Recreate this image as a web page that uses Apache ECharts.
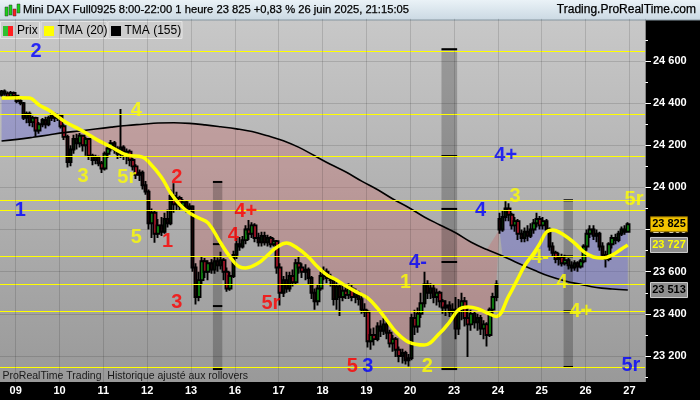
<!DOCTYPE html>
<html><head><meta charset="utf-8">
<script src="https://cdn.jsdelivr.net/npm/echarts@6/dist/echarts.min.js"></script>
<style>html,body{margin:0;padding:0;background:#000}#c{width:700px;height:400px}</style>
</head><body><div id="c"></div>
<script>
// ---------- DATA ----------
const fridayHours = ['17','18','19','20','21'];
const sessionHours = ['08','09','10','11','12','13','14','15','16','17','18','19','20','21'];
const sessionDays = ['09','10','11','12','13','16','17','18','19','20','23','24','25','26'];
const futureHours = ['08','09','10','11','12'];
const yTickMin = 23000, yTickMax = 24800, yTickStep = 200;

// [open, close, low, high] per 1-hour bar
const ohlc = [
[24440,24455,24430,24462],[24455,24445,24435,24465],[24445,24430,24420,24455],[24430,24448,24425,24458],[24448,24435,24420,24455],
[24435,24410,24400,24440],[24410,24400,24390,24420],[24400,24330,24320,24405],[24330,24350,24305,24360],[24350,24310,24290,24360],
[24310,24330,24285,24340],[24330,24270,24240,24335],[24270,24300,24255,24310],[24300,24320,24285,24330],[24320,24300,24280,24335],
[24300,24330,24290,24340],[24330,24345,24315,24355],[24345,24330,24310,24355],[24330,24340,24315,24350],[24340,24290,24280,24345],
[24290,24240,24225,24300],[24240,24120,24095,24250],[24120,24180,24100,24200],[24180,24230,24160,24250],[24230,24210,24180,24255],
[24210,24245,24190,24258],[24245,24200,24170,24250],[24200,24230,24150,24240],[24230,24150,24130,24235],[24150,24130,24105,24160],
[24130,24145,24110,24155],[24145,24115,24100,24150],[24115,24090,24068,24125],[24090,24160,24080,24170],[24160,24185,24140,24195],
[24185,24210,24170,24225],[24210,24180,24160,24220],[24180,24160,24135,24195],[24160,24190,24140,24372],[24190,24150,24130,24200],
[24150,24170,24110,24185],[24170,24130,24100,24180],[24130,24100,24080,24140],[24100,24060,24040,24110],[24060,24070,24030,24085],
[24070,24010,23990,24080],[24010,23980,23965,24030],[23980,23830,23800,23990],[23830,23880,23760,23900],[23880,23780,23738,23890],
[23780,23820,23760,23850],[23820,23790,23770,23860],[23790,23850,23780,23880],[23850,23830,23810,23895],[23830,23960,23820,23990],
[23960,23920,23880,24020],[23920,23950,23890,23980],[23950,23910,23890,23960],[23910,23930,23895,23945],[23930,23900,23880,23940],
[23900,23910,23880,23925],[23910,23620,23600,23915],[23620,23480,23445,23640],[23480,23560,23460,23600],[23560,23650,23540,23670],
[23650,23600,23570,23665],[23600,23640,23560,23655],[23640,23610,23590,23660],[23610,23650,23590,23670],[23650,23630,23600,23668],
[23630,23655,23610,23695],[23655,23600,23560,23665],[23600,23520,23505,23620],[23520,23580,23510,23600],[23580,23680,23570,23700],
[23680,23730,23660,23760],[23730,23720,23700,23765],[23720,23750,23710,23770],[23750,23800,23730,23820],[23800,23780,23750,23845],
[23780,23820,23760,23835],[23820,23760,23740,23830],[23760,23740,23720,23785],[23740,23770,23720,23790],[23770,23740,23725,23790],
[23740,23760,23720,23775],[23760,23730,23715,23770],[23730,23745,23720,23760],[23745,23620,23590,23750],[23620,23500,23440,23640],
[23500,23560,23480,23580],[23560,23520,23500,23600],[23520,23580,23505,23600],[23580,23550,23530,23610],[23550,23640,23540,23660],
[23640,23620,23590,23670],[23620,23600,23570,23640],[23600,23610,23560,23635],[23610,23570,23540,23620],[23570,23500,23470,23580],
[23500,23460,23420,23520],[23460,23520,23440,23540],[23520,23580,23510,23600],[23580,23600,23560,23625],[23600,23570,23545,23615],
[23570,23560,23530,23590],[23560,23470,23440,23570],[23470,23530,23420,23550],[23530,23480,23390,23540],[23480,23510,23460,23540],
[23510,23490,23470,23530],[23490,23520,23470,23545],[23520,23480,23460,23540],[23480,23500,23450,23520],[23500,23470,23440,23510],
[23470,23420,23400,23490],[23420,23410,23385,23450],[23410,23270,23240,23420],[23270,23300,23230,23330],[23300,23280,23250,23335],
[23280,23340,23270,23360],[23340,23320,23290,23370],[23320,23350,23300,23380],[23350,23310,23280,23365],[23310,23260,23240,23325],
[23260,23280,23220,23300],[23280,23230,23195,23290],[23230,23200,23170,23245],[23200,23215,23165,23235],[23215,23180,23160,23225],
[23180,23190,23150,23210],[23190,23380,23180,23400],[23380,23340,23300,23420],[23340,23400,23310,23430],[23400,23450,23380,23500],
[23450,23540,23430,23600],[23540,23500,23470,23560],[23500,23520,23470,23545],[23520,23480,23450,23540],[23480,23500,23440,23520],
[23500,23460,23430,23510],[23460,23430,23400,23470],[23430,23440,23390,23465],[23440,23410,23385,23460],[23410,23420,23390,23450],
[23420,23330,23280,23480],[23330,23420,23300,23470],[23420,23460,23370,23500],[23460,23380,23340,23480],[23380,23350,23195,23430],
[23350,23400,23320,23420],[23400,23360,23330,23410],[23360,23380,23320,23400],[23380,23330,23300,23395],[23330,23350,23280,23370],
[23350,23300,23245,23360],[23300,23420,23290,23430],[23420,23480,23400,23500],[23480,23540,23460,23560],[23850,23800,23780,23880],
[23800,23860,23790,23890],[23860,23900,23840,23935],[23900,23870,23840,23925],[23870,23820,23800,23880],[23820,23840,23790,23860],
[23840,23780,23750,23850],[23780,23760,23740,23800],[23760,23790,23740,23810],[23790,23770,23745,23820],[23770,23800,23760,23830],
[23800,23830,23780,23850],[23830,23850,23810,23880],[23850,23820,23800,23865],[23820,23840,23800,23860],[23840,23800,23780,23850],
[23800,23720,23700,23810],[23720,23690,23670,23740],[23690,23660,23640,23700],[23660,23670,23630,23690],[23670,23640,23625,23685],
[23640,23655,23630,23680],[23655,23630,23610,23665],[23630,23620,23600,23650],[23620,23640,23605,23655],[23640,23625,23600,23650],
[23625,23650,23615,23660],[23650,23720,23640,23730],[23720,23780,23700,23800],[23780,23800,23760,23820],[23800,23770,23750,23820],
[23770,23780,23740,23800],[23780,23720,23700,23790],[23720,23680,23660,23740],[23680,23660,23620,23700],[23660,23730,23650,23740],
[23730,23760,23710,23775],[23760,23750,23730,23780],[23750,23780,23740,23795],[23780,23800,23770,23815],[23800,23790,23775,23820],
[23790,23825,23785,23835]
];

// TMA(20) read points [bar, value]
const tmaShort = [[0,24424],[6,24426],[9,24424],[12,24391],[15,24367],[19,24325],[21,24306],[25,24275],[27,24258],[31,24222],
[35,24192],[40,24154],[45,24144],[47,24121],[51,24050],[54,23974],[57,23917],[60,23879],[63,23855],[66,23831],[70,23736],
[73,23670],[76,23623],[78,23618],[82,23641],[85,23679],[88,23717],[91,23736],[94,23717],[98,23670],[101,23622],[104,23584],
[107,23561],[110,23532],[114,23499],[117,23475],[120,23428],[123,23371],[126,23314],[130,23266],[135,23252],[140,23309],
[143,23360],[146,23420],[149,23432],[152,23425],[155,23405],[158,23388],[162,23485],[165,23570],[167,23627],[170,23689],
[172,23736],[174,23788],[176,23798],[179,23780],[183,23736],[186,23694],[189,23670],[192,23665],[195,23679],[198,23708],[200,23727]];

// TMA(155) read points
const tmaLongBars = [0,5,10,15,20,25,30,35,40,45,50,55,60,65,70,75,80,85,90,95,100,105,110,115,120,125,130,135,140,145,150,155,160,165,170,175,180,185,190,195,200];
const tmaLongVals = [24220,24228,24238,24249,24260,24268,24277,24286,24294,24300,24306,24307,24304,24297,24288,24278,24265,24245,24222,24190,
24150,24110,24073,24030,23990,23945,23905,23860,23822,23785,23740,23705,23675,23640,23608,23578,23556,23540,23525,23518,23513];

// horizontal support / resistance levels
const levels = [24645,24347,24148,23939,23891,23673,23540,23412,23147];

// grey zones: bar range and their level marks
const zoneStart = [68,141,180];
const zoneEnd = [70,145,182];
const zoneLevels = [[24026,23731,23437,23138],[24656,24149,23898,23646,23138],[23939,23673,23412,23148]];

// wave count annotations
const waveText  = ['2','1','4','3','5r','5','2','1','4+','4','3','5r','5','3','2','1','4-','4+','4','3','5r','4-','4','4+','5r'];
const waveBar   = [11,6,43,26,40,43,56,53,78,74,56,86,112,117,136,129,133,161,153,164,202,172,179,185,201];
const wavePrice = [24643,23890,24364,24051,24048,23763,24047,23742,23887,23770,23456,23448,23152,23152,23152,23551,23644,24152,23890,23955,23944,23667,23549,23409,23157];
const waveKind  = ['b','b','y','y','y','y','r','r','r','r','r','r','r','b','y','y','b','b','b','y','y','y','y','y','b'];

// ---------- BUILD ----------
const categories = [];
fridayHours.forEach(h => categories.push('06 ' + h + ':00'));
sessionDays.forEach(d => sessionHours.forEach(h => categories.push(d + ' ' + h + ':00')));
futureHours.forEach(h => categories.push('27 ' + h + ':00'));

const closes = ohlc.map(r => r[1]);
const fmt = v => String(Math.round(v)).replace(/\B(?=(\d{3})+(?!\d))/g, ' ');
const kindColor = {b:'#0000ff', y:'#ffff00', r:'#ff0000'};
const FONT = 'Liberation Sans, Arial, sans-serif';

function nearestLong(i){
  let k = 0;
  for (let j = 1; j < tmaLongBars.length; j++) if (Math.abs(tmaLongBars[j]-i) < Math.abs(tmaLongBars[k]-i)) k = j;
  return tmaLongVals[k];
}
// segments where close is above / below TMA(155)
const segs = [];
let segA = 0, segSign = Math.sign(closes[0]-nearestLong(0));
for (let i = 1; i < closes.length; i++) {
  const s = Math.sign(closes[i]-nearestLong(i));
  if (s !== segSign && s !== 0) { segs.push([segA, i, segSign, closes[segA]]); segA = i; segSign = s; }
}
segs.push([segA, closes.length-1, segSign, closes[segA]]);

const isDayStart = (idx, val) => typeof val === 'string' ? val.endsWith(' 08:00') : categories[idx].endsWith(' 08:00');

const chart = echarts.init(document.getElementById('c'), null, {renderer:'canvas'});
const grad = (c1, c2) => ({type:'linear', x:0, y:0, x2:0, y2:1, colorStops:[{offset:0,color:c1},{offset:1,color:c2}]});

const option = {
  animation: false,
  backgroundColor: '#000',
  grid: {left: 0, right: 55, top: 18.857, bottom: 1.857, show: true, borderWidth: 0,
         backgroundColor: grad('#c8c8c8', '#979797')},
  xAxis: {
    type: 'category', data: categories, boundaryGap: true, z: 150,
    axisLine: {show: false}, axisTick: {show: false},
    axisLabel: {inside: true, margin: 2, interval: isDayStart, formatter: v => v.slice(0,2),
                color: '#fff', fontWeight: 'bold', fontSize: 11, fontFamily: FONT, padding: [0,3,0,0]},
    splitLine: {show: true, interval: isDayStart, lineStyle: {color: 'rgba(0,0,0,0.13)', width: 1}}
  },
  yAxis: {
    type: 'value', position: 'right', min: yTickMin, max: yTickMax, interval: yTickStep, scale: true,
    axisLine: {show: true, lineStyle: {color: '#9a9a9a'}},
    axisTick: {show: true, length: 6, lineStyle: {color: '#fff'}},
    minorTick: {show: true, splitNumber: 2, length: 3, lineStyle: {color: '#fff'}},
    axisLabel: {margin: 8, color: '#fff', fontWeight: 'bold', fontSize: 11, fontFamily: FONT,
                showMinLabel: false, showMaxLabel: false, formatter: v => fmt(v)},
    splitLine: {show: true, lineStyle: {color: 'rgba(0,0,0,0.13)', width: 1}}
  },
  series: [
    { type: 'custom', name: 'fill', z: 1, silent: true, data: segs, encode: {x: 0, y: 3},
      renderItem: (params, api) => {
        const s = segs[params.dataIndex];
        const pts = [];
        for (let i = s[0]; i <= s[1]; i++) pts.push(api.coord([i, closes[i]]));
        for (let k = tmaLongBars.length-1; k >= 0; k--) {
          if (tmaLongBars[k] >= s[0] && tmaLongBars[k] <= s[1]) pts.push(api.coord([tmaLongBars[k], tmaLongVals[k]]));
        }
        return {type: 'polygon', shape: {points: pts},
                style: {fill: s[2] > 0 ? 'rgba(100,100,215,0.38)' : 'rgba(200,105,105,0.35)'}};
      }
    },
    { type: 'custom', name: 'zones', z: 2, silent: true,
      data: zoneStart.map((s,i) => [s, zoneEnd[i], zoneLevels[i][0]]), encode: {x: 0, y: 2},
      renderItem: (params, api) => {
        const i = params.dataIndex, lv = zoneLevels[i];
        const w = api.size([1,0])[0];
        const top = Math.max(...lv), bot = Math.min(...lv);
        const p1 = api.coord([zoneStart[i], top]), p2 = api.coord([zoneEnd[i], bot]);
        const x0 = p1[0]-w/2, x1 = p2[0]+w/2;
        const ch = [{type:'rect', shape:{x:x0, y:p1[1], width:x1-x0, height:p2[1]-p1[1]}, style:{fill:'rgba(0,0,0,0.22)'}}];
        lv.forEach(v => { const y = api.coord([zoneStart[i], v])[1];
          ch.push({type:'rect', shape:{x:x0, y:y-1, width:x1-x0, height:2}, style:{fill:'#000'}}); });
        return {type:'group', children: ch};
      }
    },
    { type: 'candlestick', name: 'Prix', z: 3, data: ohlc, barWidth: 3, barMaxWidth: 3,
      itemStyle: {color: '#19d219', color0: '#ff1e3c', borderColor: '#000', borderColor0: '#000', borderWidth: 1.9}
    },
    { type: 'line', name: 'TMA (155)', z: 4, data: tmaLongBars.map((b,i) => [b, tmaLongVals[i]]),
      smooth: 0.4, symbol: 'none', lineStyle: {color: '#000', width: 1.6},
      markLine: {silent: true, symbol: 'none', label: {show: false},
        lineStyle: {color: '#ffff00', width: 1, type: 'solid'}, data: levels.map(v => ({yAxis: v}))}
    },
    { type: 'line', name: 'TMA (20)', z: 5, data: tmaShort, smooth: 0.4, symbol: 'none',
      lineStyle: {color: '#ffff00', width: 3.5} },
    { type: 'scatter', name: 'waves', z: 6, symbolSize: 1, itemStyle: {color: 'rgba(0,0,0,0)'},
      data: waveText.map((t,i) => ({name: t, value: [waveBar[i], wavePrice[i]],
        label: {color: kindColor[waveKind[i]]}})),
      label: {show: true, position: 'inside', formatter: '{b}', fontSize: 20, fontWeight: 'bold', fontFamily: FONT}
    }
  ]
};
chart.setOption(option);

// ---------- overlays (header, legend, price tags) ----------
const lastClose = closes[closes.length-1];
const lastShort = tmaShort[tmaShort.length-1][1];
const lastLong = tmaLongVals[tmaLongVals.length-1];
const tagVals = [lastClose, lastShort, lastLong];
const tagStyles = [{bg:'#f2c400', fg:'#000', bd:'#8a6a00'}, {bg:'#8e8e8e', fg:'#ffff00', bd:'#d0d0d0'}, {bg:'#8e8e8e', fg:'#000', bd:'#d0d0d0'}];

const g = [];
g.push({type:'rect', z:100, shape:{x:0,y:0,width:700,height:20}, style:{fill: grad('#eaf2f7','#cbd9e3')}});
g.push({type:'rect', z:100, shape:{x:0,y:19.5,width:700,height:1}, style:{fill:'#8595a0'}});
// header icon
[[5,6,3,9,'#19d219'],[9,4,3,10,'#19d219'],[13,8,3,7,'#ff1e1e'],[17,3,3,9,'#19d219']].forEach(r =>
  g.push({type:'rect', z:101, shape:{x:r[0],y:r[1]+1,width:r[2],height:r[3]}, style:{fill:r[4], stroke:'#333', lineWidth:0.5}}));
g.push({type:'text', z:101, x:23, y:10, style:{text:'Mini DAX Full0925 8:00-22:00 1 heure 23 825 +0,83 % 26 juin 2025, 21:15:05',
  font:'11.2px ' + FONT, fill:'#000', stroke:'#000', lineWidth:0.25, verticalAlign:'middle'}});
g.push({type:'text', z:101, x:696, y:10, style:{text:'Trading.ProRealTime.com', font:'12px ' + FONT, fill:'#000', stroke:'#000', lineWidth:0.25, align:'right', verticalAlign:'middle'}});
// legend boxes
[[0.5,39,'Prix'],[41,66,'TMA (20)'],[108,74,'TMA (155)']].forEach((b,i) => {
  g.push({type:'rect', z:100, shape:{x:b[0], y:21.5, width:b[1], height:17}, style:{fill:'#cdcdcd', stroke:'#e6e6e6', lineWidth:1}});
  if (i === 0) {
    g.push({type:'rect', z:101, shape:{x:3,y:26,width:5,height:10}, style:{fill:'#2fc02f'}});
    g.push({type:'rect', z:101, shape:{x:8,y:26,width:5,height:10}, style:{fill:'#ff1e1e'}});
  } else {
    g.push({type:'rect', z:101, shape:{x:b[0]+3, y:26, width:10, height:10}, style:{fill: i===1 ? '#ffff00' : '#000'}});
  }
  g.push({type:'text', z:101, x:b[0]+16.5, y:30.5, style:{text:b[2], font:'12px ' + FONT, fill:'#000', verticalAlign:'middle'}});
});
// bottom black band and note
g.push({type:'rect', z:100, shape:{x:0,y:382,width:700,height:18}, style:{fill:'#000'}});
g.push({type:'text', z:101, x:2.5, y:376.5, style:{text:'ProRealTime Trading  Historique ajusté aux rollovers', font:'10.5px ' + FONT, fill:'#1a1a1a', verticalAlign:'middle'}});
// price tags
tagVals.forEach((v,i) => {
  const y = chart.convertToPixel({yAxisIndex:0}, v);
  const st = tagStyles[i];
  g.push({type:'rect', z:110, shape:{x:650.5, y:y-7.5, width:37, height:15}, style:{fill:st.bg, stroke:st.bd, lineWidth:1}});
  g.push({type:'text', z:111, x:669, y:y, style:{text:fmt(v), font:'bold 11px ' + FONT, fill:st.fg, align:'center', verticalAlign:'middle'}});
});
chart.setOption({graphic: {elements: g}});
</script>
</body></html>
